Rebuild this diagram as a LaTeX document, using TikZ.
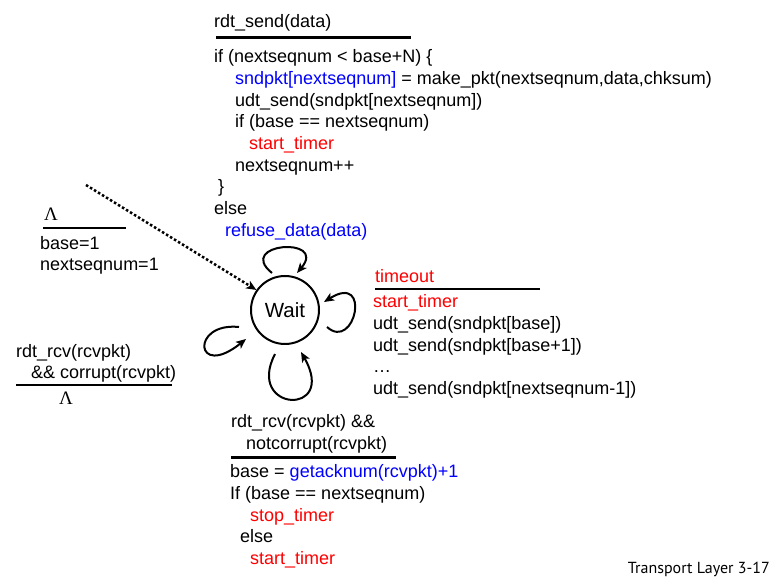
\documentclass[tikz,border=0pt]{standalone}
\usepackage{fontspec}
\setmainfont{Liberation Sans}
\newfontfamily\serifL{Liberation Serif}
\newfontfamily\footfont{PT Sans}
\usetikzlibrary{arrows.meta}
\definecolor{cblue}{RGB}{0,0,255}
\definecolor{cred}{RGB}{255,0,0}
\begin{document}
\begin{tikzpicture}[x=1pt,y=-1pt,
  txt/.style={font=\fontsize{18}{21.7}\selectfont, inner sep=0, anchor=base west},
  lam/.style={font=\serifL\fontsize{19}{22}\selectfont, inner sep=0, anchor=base west},
  rule/.style={line width=3pt},
  thinrule/.style={line width=2pt},
  loop/.style={line width=2pt, -{Stealth[length=10pt,width=8.5pt,inset=2.5pt]}},
  state/.style={circle, draw, line width=2pt, minimum size=68pt, inner sep=0, font=\fontsize{20.5}{24}\selectfont}]
\useasboundingbox (0,0) rectangle (780,585);

% state
\node[state] (wait) at (285,310) {Wait};

% top block
\node[txt] (a0) at (214,27.7) {rdt\_send(data)};
\draw[rule] (216,37.3) -- (411,37.3);
\node[txt] (a1) at (214,62.7) {if (nextseqnum < base+N) \{};
\node[txt] (a2) at (235,84.4) {\textcolor{cblue}{sndpkt[nextseqnum]} = make\_pkt(nextseqnum,data,chksum)};
\node[txt] (a3) at (235,106.1) {udt\_send(sndpkt[nextseqnum])};
\node[txt] (a4) at (235,127.8) {if (base == nextseqnum)};
\node[txt,text=cred] (a5) at (249,149.5) {start\_timer};
\node[txt] (a6) at (235,171.2) {nextseqnum++};
\node[txt] (a7) at (218,192.9) {\}};
\node[txt] (a8) at (214,214.6) {else};
\node[txt,text=cblue] (a9) at (225,236.3) {refuse\_data(data)};

% init label
\node[lam] (l0) at (44,221) {Λ};
\draw[thinrule] (43,228) -- (126,228);
\node[txt] (l1) at (40,249.3) {base=1};
\node[txt] (l2) at (40,270.7) {nextseqnum=1};

% corrupt label
\node[txt] (c0) at (16,357.7) {rdt\_rcv(rcvpkt)};
\node[txt] (c1) at (31,378.7) {\&\& corrupt(rcvpkt)};
\draw[thinrule] (16,385) -- (172,385);
\node[lam] (c2) at (59,405) {Λ};

% timeout label
\node[txt,text=cred] (t0) at (375,282.7) {timeout};
\draw[thinrule] (375,289.3) -- (540,289.3);
\node[txt,text=cred] (t1) at (373,307.7) {start\_timer};
\node[txt] (t2) at (373,329.4) {udt\_send(sndpkt[base])};
\node[txt] (t3) at (373,351.1) {udt\_send(sndpkt[base+1])};
\node[txt] (t4) at (373,372.8) {…};
\node[txt] (t5) at (373,394.5) {udt\_send(sndpkt[nextseqnum-1])};

% ack label
\node[txt] (b0) at (231,427.7) {rdt\_rcv(rcvpkt) \&\&};
\node[txt] (b1) at (246,449.4) {notcorrupt(rcvpkt)};
\draw[rule] (231,457.3) -- (396,457.3);
\node[txt] (b2) at (230,477.7) {base = \textcolor{cblue}{getacknum(rcvpkt)+1}};
\node[txt] (b3) at (230,499.4) {If (base == nextseqnum)};
\node[txt,text=cred] (b4) at (250,521.1) {stop\_timer};
\node[txt] (b5) at (240,542.8) {else};
\node[txt,text=cred] (b6) at (250,564.5) {start\_timer};

% footer
\node[font=\footfont\fontsize{16}{18}\selectfont, inner sep=0, anchor=base east] (foot) at (770,573.5) {Transport Layer 3-17};

% coordinates for loops
\coordinate (init) at (86,185);
\coordinate (ts) at (272,273);
\coordinate (te) at (297,273);
\coordinate (rs) at (327,327);
\coordinate (re) at (324,302);
\coordinate (ls) at (239,327);
\coordinate (le) at (246,339);
\coordinate (bs) at (275,354);
\coordinate (be) at (301,352);

% initial dotted arrow
\draw[line width=2.5pt, dash pattern=on 2.5pt off 2.2pt, -{Stealth[length=10pt,width=8.5pt,inset=2.5pt]}] (init) -- (wait.145);

% self loops
\draw[loop] (ts) .. controls (235,243) and (328,236) .. (te);
\draw[loop] (rs) .. controls (355,352) and (372,272) .. (re);
\draw[loop] (ls) .. controls (190,322) and (195,380) .. (le);
\draw[loop] (bs) .. controls (245,412) and (338,417) .. (be);
\end{tikzpicture}
\end{document}
